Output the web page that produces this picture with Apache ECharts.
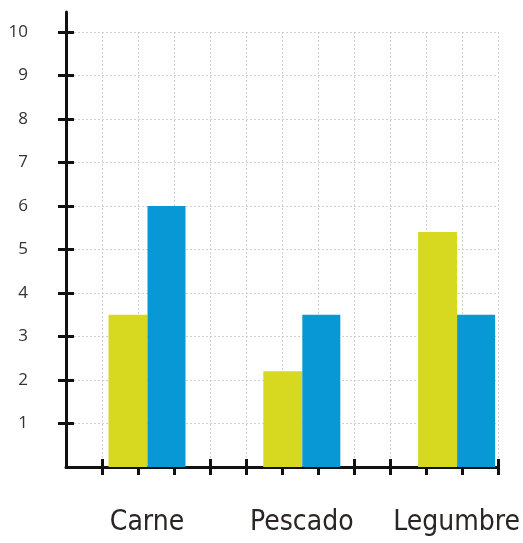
<!DOCTYPE html>
<html>
<head>
<meta charset="utf-8">
<script src="https://cdn.jsdelivr.net/npm/echarts@6/dist/echarts.min.js"></script>
<style>html,body{margin:0;padding:0;background:#fff}#c{width:523px;height:543px}</style>
</head>
<body>
<div id="c"></div>
<script>
const categories = ['Carne', 'Pescado', 'Legumbre'];
const serieAmarilla = [3.5, 2.2, 5.4];
const serieAzul = [6, 3.5, 3.5];
const yTicks = [1, 2, 3, 4, 5, 6, 7, 8, 9, 10];
const xTicks = [1, 2, 3, 4, 5, 6, 7, 8, 9, 10, 11, 12];

const chart = echarts.init(document.getElementById('c'));
const dotted = { show: true, lineStyle: { color: '#d0d0d0', width: 1, type: [2, 2] } };
const axisBlack = { show: true, onZero: false, lineStyle: { color: '#111', width: 3 } };

chart.setOption({
  animation: false,
  backgroundColor: '#fff',
  grid: [
    { left: 66, right: 25, top: 32, bottom: 76 },
    { left: 147, right: 65, top: 32, bottom: 76 },
    { left: 66, right: 25, top: 12, bottom: 76 }
  ],
  xAxis: [
    { type: 'value', gridIndex: 0, min: 0, max: 12, interval: 1, position: 'bottom',
      axisLine: axisBlack,
      axisTick: { show: true, inside: false, length: 8, customValues: xTicks, lineStyle: { color: '#111', width: 3 } },
      axisLabel: { show: false },
      splitLine: dotted },
    { type: 'value', gridIndex: 0, min: 0, max: 12, interval: 1, position: 'bottom',
      axisLine: { show: false, onZero: false },
      axisTick: { show: true, inside: true, length: 8, customValues: xTicks, lineStyle: { color: '#111', width: 3 } },
      axisLabel: { show: false },
      splitLine: { show: false } },
    { type: 'category', gridIndex: 1, data: categories, boundaryGap: false, position: 'bottom',
      axisLine: { show: false, onZero: false },
      axisTick: { show: false },
      axisLabel: { show: true, interval: 0, hideOverlap: false, margin: 42, fontSize: 28, color: '#2b2424',
        fontFamily: "'DejaVu Sans Condensed', 'DejaVu Sans', sans-serif" },
      splitLine: { show: false } },
    { type: 'value', gridIndex: 2, min: 0, max: 1, show: false }
  ],
  yAxis: [
    { type: 'value', gridIndex: 0, min: 0, max: 10, interval: 1, position: 'left',
      axisLine: { show: false, onZero: false },
      axisTick: { show: true, inside: false, length: 8, customValues: yTicks, lineStyle: { color: '#111', width: 3 } },
      axisLabel: { show: true, margin: 38, customValues: yTicks, fontSize: 17, color: '#333',
        fontFamily: "'Open Sans', sans-serif" },
      splitLine: dotted },
    { type: 'value', gridIndex: 0, min: 0, max: 10, interval: 1, position: 'left',
      axisLine: { show: false, onZero: false },
      axisTick: { show: true, inside: true, length: 8, customValues: yTicks, lineStyle: { color: '#111', width: 3 } },
      axisLabel: { show: false },
      splitLine: { show: false } },
    { type: 'value', gridIndex: 1, min: 0, max: 10, show: false },
    { type: 'value', gridIndex: 2, min: 0, max: 1, position: 'left',
      axisLine: axisBlack, axisTick: { show: false }, axisLabel: { show: false }, splitLine: { show: false } }
  ],
  series: [
    { type: 'bar', xAxisIndex: 2, yAxisIndex: 2, data: serieAmarilla, barWidth: 39, barGap: '0%',
      itemStyle: { color: '#d6d91f' }, z: 3 },
    { type: 'bar', xAxisIndex: 2, yAxisIndex: 2, data: serieAzul, barWidth: 38, barGap: '0%',
      itemStyle: { color: '#0898d6' }, z: 3 }
  ]
});
</script>
</body>
</html>
